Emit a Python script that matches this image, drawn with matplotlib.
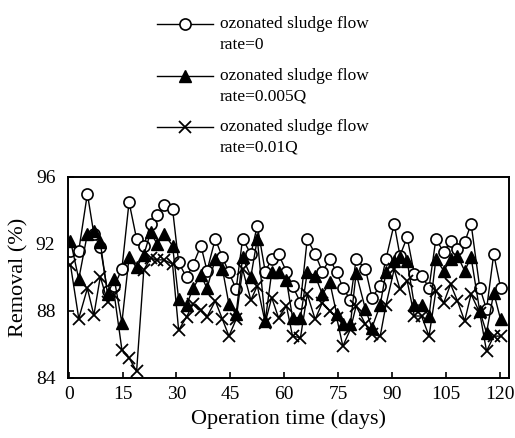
import matplotlib
matplotlib.use("Agg")
import matplotlib.pyplot as plt
from matplotlib.lines import Line2D

# operation time (days) and removal (%)
days = [0.5, 2.8, 5.2, 7.0, 8.8, 10.8, 12.7, 14.8, 16.8, 18.9,
        20.9, 22.8, 24.6, 26.5, 28.9, 30.6, 32.8, 34.6, 36.8, 38.5,
        40.8, 42.8, 44.6, 46.6, 48.4, 50.7, 52.5, 54.7, 56.5, 58.4,
        60.6, 62.3, 64.5, 66.4, 68.6, 70.6, 72.7, 74.6, 76.3, 78.4,
        80.0, 82.6, 84.4, 86.7, 88.3, 90.6, 92.2, 94.2, 96.2, 98.2,
        100.3, 102.2, 104.4, 106.3, 108.2, 110.2, 112.0, 114.4, 116.3, 118.3,
        120.2]

rate_0 = [91.6, 91.6, 95.0, 92.6, 91.8, 89.2, 89.5, 90.5, 94.5, 92.3,
          91.9, 93.2, 93.7, 94.3, 94.1, 90.9, 90.0, 90.75, 91.9, 90.4,
          92.3, 91.2, 90.3, 89.3, 92.3, 91.4, 93.1, 90.35, 91.1, 91.4,
          90.35, 89.5, 88.5, 92.3, 91.4, 90.35, 91.1, 90.3, 89.4, 88.65,
          91.1, 90.5, 88.8, 89.5, 91.1, 93.2, 91.3, 92.4, 90.2, 90.1,
          89.4, 92.3, 91.5, 92.2, 91.7, 92.1, 93.2, 89.4, 88.1, 91.4,
          89.4]

rate_0005 = [92.2, 89.9, 92.6, 92.8, 92.1, 89.0, 89.9, 87.3, 91.2, 90.6,
             91.35, 92.7, 92.0, 92.6, 91.9, 88.7, 88.35, 89.35, 90.15, 89.35,
             91.1, 90.5, 88.4, 87.8, 91.2, 90.05, 92.3, 87.4, 90.3, 90.3,
             89.85, 87.6, 87.6, 90.3, 90.1, 89.0, 89.7, 87.8, 87.2, 87.2,
             90.25, 88.1, 87.0, 88.35, 90.3, 91.0, 91.2, 91.0, 88.35, 88.35,
             87.7, 91.1, 90.4, 91.1, 91.3, 90.4, 91.2, 88.0, 86.7, 89.1,
             87.5]

rate_001 = [90.75, 87.55, 89.35, 87.75, 90.05, 88.55, 88.95, 85.7, 85.2, 84.4,
            90.45, 91.15, 91.05, 91.05, 90.8, 86.85, 87.65, 88.4, 88.05, 87.65,
            88.6, 87.5, 86.5, 87.5, 90.5, 88.65, 89.5, 87.3, 88.8, 87.6,
            88.3, 86.5, 86.4, 89.0, 87.5, 88.5, 88.0, 87.6, 85.9, 86.9,
            88.3, 87.2, 86.6, 86.5, 88.35, 90.5, 89.3, 89.8, 87.7, 87.7,
            86.5, 89.2, 88.5, 89.6, 88.6, 87.4, 89.0, 87.9, 85.6, 86.5,
            86.5]

legend_top = ["ozonated sludge flow"] * 3
legend_bottom = ["rate=0", "rate=0.005Q", "rate=0.01Q"]

plt.rcParams["font.family"] = ["Liberation Serif", "DejaVu Serif"]

W, H = 515, 438
fig = plt.figure(figsize=(W / 100, H / 100), dpi=100)
ax = fig.add_axes([0.132, 0.137, 0.856, 0.459])

styles = [
    dict(marker="o", ms=8, mfc="white", mec="black", mew=1.2),
    dict(marker="^", ms=8, mfc="black", mec="black"),
    dict(marker="x", ms=9, mec="black", mew=1.3),
]
for vals, st in zip([rate_0, rate_0005, rate_001], styles):
    ax.plot(days, vals, "-", color="black", lw=1.0, **st)

ax.set_xlim(-0.2, 122.5)
ax.set_ylim(84, 96)
ax.set_xticks(range(0, 121, 15))
ax.set_yticks([84, 88, 92, 96])
ax.tick_params(direction="in", length=4, width=1.2, labelsize=14)
ax.tick_params(axis="x", pad=6)
ax.tick_params(axis="y", pad=9)
for s in ax.spines.values():
    s.set_linewidth(1.4)

ax.set_xlabel("Operation time (days)", fontsize=16, labelpad=4)
ax.set_ylabel("Removal (%)", fontsize=16, labelpad=5)

# legend drawn by hand: handle aligned with first text line
for i, (t1, t2, st) in enumerate(zip(legend_top, legend_bottom, styles)):
    y1 = 1 - (24 + 51.5 * i) / H
    y2 = y1 - 21 / H
    fig.add_artist(Line2D([157 / W, 213 / W], [y1, y1], color="black",
                          lw=1.0, transform=fig.transFigure))
    fig.add_artist(Line2D([185 / W], [y1], color="black", lw=0,
                          transform=fig.transFigure, **st))
    fig.text(220 / W, y1, t1, fontsize=12.5, va="center", ha="left")
    fig.text(220 / W, y2, t2, fontsize=12.5, va="center", ha="left")

fig.savefig("out.png", dpi=100)
